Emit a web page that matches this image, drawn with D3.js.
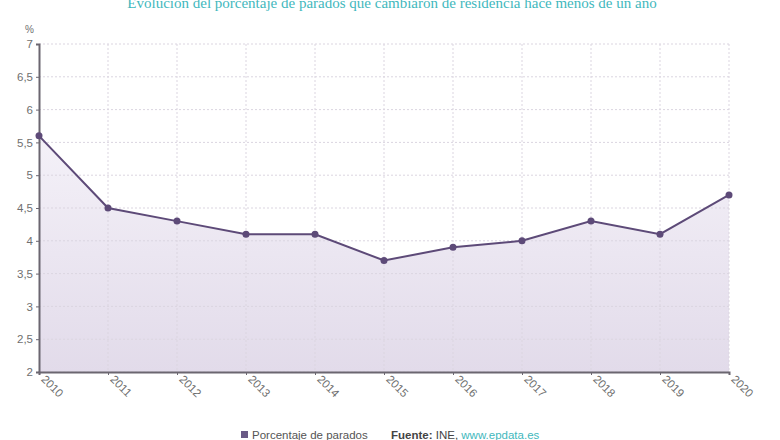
<!DOCTYPE html>
<html>
<head>
<meta charset="utf-8">
<script src="https://cdn.jsdelivr.net/npm/d3@7"></script>
<style>
  body { margin: 0; background: #fff; }
  svg { display: block; font-family: "Liberation Sans", Arial, sans-serif; }
</style>
</head>
<body>
<script>
// Datos
const years = [2010, 2011, 2012, 2013, 2014, 2015, 2016, 2017, 2018, 2019, 2020];
const values = [5.6, 4.5, 4.3, 4.1, 4.1, 3.7, 3.9, 4.0, 4.3, 4.1, 4.7];
const yTicks = [2, 2.5, 3, 3.5, 4, 4.5, 5, 5.5, 6, 6.5, 7];

const w = 780;
const h = 440;
const mLeft = 39, mRight = 729, mTop = 44, mBottom = 372;

const svg = d3.select("body").append("svg")
  .attr("width", w)
  .attr("height", h);

// Degradado del área
const grad = svg.append("defs").append("linearGradient")
  .attr("id", "areaGrad")
  .attr("x1", 0).attr("y1", 0).attr("x2", 0).attr("y2", 1);
grad.append("stop").attr("offset", "0%").attr("stop-color", "#f4f1f8");
grad.append("stop").attr("offset", "100%").attr("stop-color", "#e2dbea");

const x = d3.scalePoint().domain(years).range([mLeft, mRight]);
const y = d3.scaleLinear().domain([2, 7]).range([mBottom, mTop]);

const data = years.map((yr, i) => ({ year: yr, value: values[i] }));

// Área
svg.append("path")
  .datum(data)
  .attr("fill", "url(#areaGrad)")
  .attr("d", d3.area().x(d => x(d.year)).y0(y(2)).y1(d => y(d.value)));

// Rejilla horizontal
svg.append("g")
  .selectAll("line")
  .data(yTicks)
  .enter().append("line")
  .attr("x1", mLeft).attr("x2", mRight)
  .attr("y1", d => y(d)).attr("y2", d => y(d))
  .attr("stroke", "#dbd5e0")
  .attr("stroke-dasharray", "2,2");

// Rejilla vertical
svg.append("g")
  .selectAll("line")
  .data(years.slice(1))
  .enter().append("line")
  .attr("x1", d => x(d)).attr("x2", d => x(d))
  .attr("y1", mTop).attr("y2", mBottom)
  .attr("stroke", "#dbd5e0")
  .attr("stroke-dasharray", "2,2");

// Eje Y
const yAxis = d3.axisLeft(y)
  .tickValues(yTicks)
  .tickSize(3)
  .tickPadding(3)
  .tickFormat(d => String(d).replace(".", ","));
const gy = svg.append("g")
  .attr("transform", "translate(" + mLeft + ",0)")
  .call(yAxis);
gy.select(".domain").attr("stroke", "#6b6670").attr("stroke-width", 2);
gy.selectAll(".tick line").attr("stroke", "#6b6670");
gy.selectAll(".tick text").attr("fill", "#6f6f6f").attr("font-size", 11.5);

// Eje X
const xAxis = d3.axisBottom(x).tickSize(3).tickPadding(4);
const gx = svg.append("g")
  .attr("transform", "translate(0," + mBottom + ")")
  .call(xAxis);
gx.select(".domain").attr("stroke", "#6b6670").attr("stroke-width", 2);
gx.selectAll(".tick line").attr("stroke", "#6b6670");
gx.selectAll(".tick text")
  .attr("fill", "#6f6f6f")
  .attr("font-size", 11.5)
  .attr("text-anchor", "start")
  .attr("dy", 0)
  .attr("y", 0)
  .attr("transform", "translate(1,8) rotate(45)");

// Línea
svg.append("path")
  .datum(data)
  .attr("fill", "none")
  .attr("stroke", "#5d4a78")
  .attr("stroke-width", 2)
  .attr("d", d3.line().x(d => x(d.year)).y(d => y(d.value)));

// Puntos
svg.append("g")
  .selectAll("circle")
  .data(data)
  .enter().append("circle")
  .attr("cx", d => x(d.year))
  .attr("cy", d => y(d.value))
  .attr("r", 3.5)
  .attr("fill", "#5d4a78");

// Título
svg.append("text")
  .attr("x", 392)
  .attr("y", 8)
  .attr("text-anchor", "middle")
  .attr("font-family", "Liberation Serif, serif")
  .attr("font-size", 15)
  .attr("fill", "#3fb8bd")
  .text("Evolución del porcentaje de parados que cambiaron de residencia hace menos de un año");

// Unidad
svg.append("text")
  .attr("x", 25).attr("y", 33)
  .attr("font-size", 10)
  .attr("fill", "#6f6f6f")
  .text("%");

// Leyenda
svg.append("rect")
  .attr("x", 241).attr("y", 431)
  .attr("width", 7).attr("height", 7)
  .attr("fill", "#6a5a86");
svg.append("text")
  .attr("x", 252).attr("y", 439)
  .attr("font-size", 11.5)
  .attr("fill", "#555")
  .text("Porcentaje de parados");

const src = svg.append("text")
  .attr("x", 391).attr("y", 439)
  .attr("font-size", 11.5)
  .attr("fill", "#444");
src.append("tspan").attr("font-weight", "bold").text("Fuente:");
src.append("tspan").text(" INE, ");
src.append("tspan").attr("fill", "#3fb8bd").text("www.epdata.es");
</script>
</body>
</html>
